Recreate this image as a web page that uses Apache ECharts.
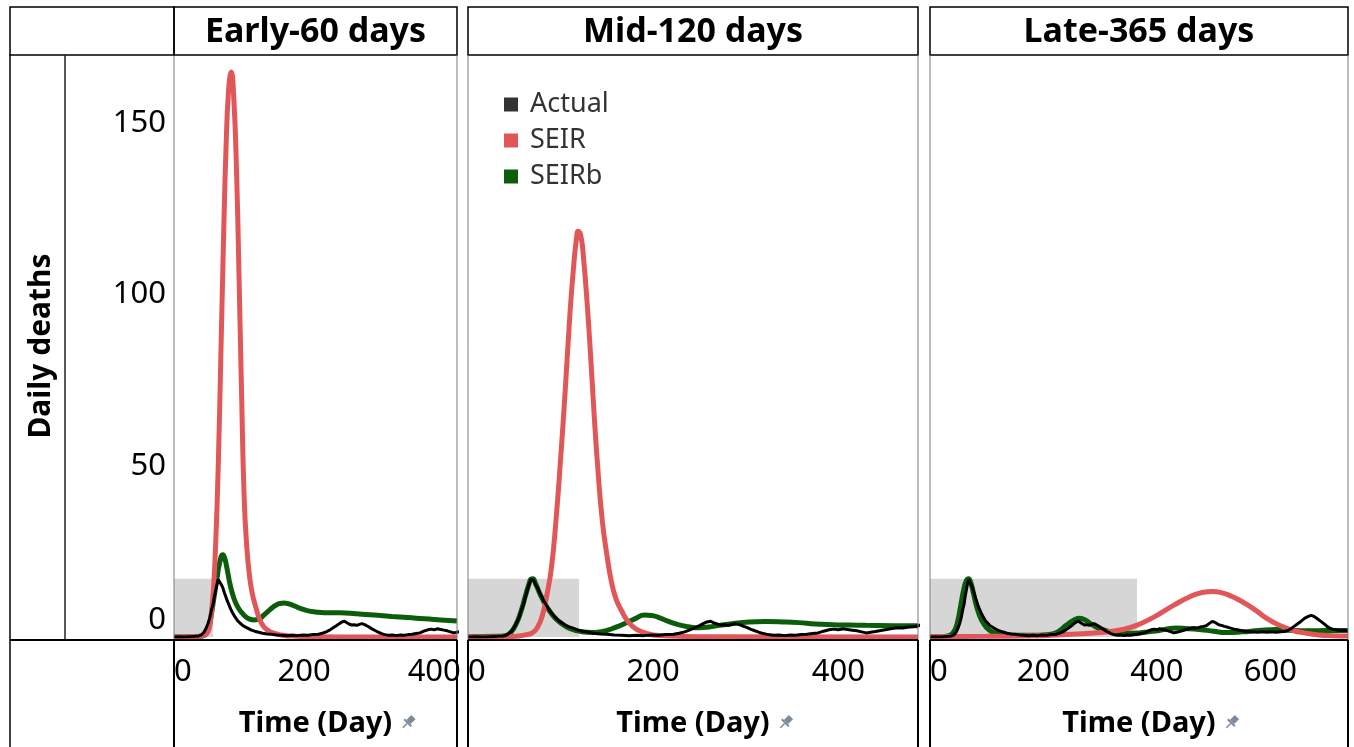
<!DOCTYPE html>
<html>
<head>
<meta charset="utf-8">
<script src="https://cdn.jsdelivr.net/npm/echarts@6/dist/echarts.min.js"></script>
<style>
  html, body { margin: 0; padding: 0; background: #fff; }
  #chart { width: 1354px; height: 747px; }
</style>
</head>
<body>
<div id="chart"></div>
<script>
// panel headers and training windows (days)
const panelTitles = ['Early-60 days', 'Mid-120 days', 'Late-365 days'];
const trainDays = [60, 120, 365];
const trainTop = 17;               // height of shaded training box
const dayMax = [435, 486, 737];    // end of each x axis
const legendNames = ['Actual', 'SEIR', 'SEIRb'];

// observed daily deaths [day, deaths], same for all panels
const actualDeaths = [
  [0,0],[8,0.1],[16,0],[24,0.1],[32,0.2],[38,0.3],[42,0.6],[46,1.4],[49,2.4],[52,3.8],[55,5.6],[58,8.2],
  [60,9.5],[62,11.8],[64,13.6],[66,15.4],[68,16.8],[69,17.2],[71,16.6],[73,15.2],[75,14.4],[78,12.6],
  [81,11],[84,9.6],[87,8.2],[90,7.1],[94,5.8],[98,4.7],[102,4],[106,3.3],[110,2.9],[114,2.5],[119,2],
  [124,1.7],[130,1.4],[136,1.1],[143,0.9],[150,0.8],[158,0.6],[166,0.5],[174,0.4],[182,0.5],[190,0.4],
  [198,0.6],[206,0.5],[214,0.7],[222,0.8],[228,1.1],[234,1.5],[239,2],[244,2.6],[249,3.2],[254,3.9],
  [258,4.4],[262,4.6],[265,4.2],[269,3.8],[273,3.5],[277,3.6],[281,3.4],[285,3.7],[289,3.9],[293,3.6],
  [297,3.2],[301,2.8],[305,2.3],[309,1.9],[314,1.4],[319,1.0],[324,0.7],[330,0.5],[336,0.6],[342,0.4],
  [348,0.6],[354,0.5],[360,0.7],[366,0.8],[372,1],[378,1.2],[384,1.7],[390,2.1],[395,2.3],[400,2.1],
  [405,2.4],[410,2.2],[415,2],[420,1.8],[425,1.5],[430,1.2],[435,1.4],[440,1.6],[446,1.9],[452,2.2],
  [458,2.5],[464,2.7],[470,2.6],[476,2.9],[482,3.1],[487,3.3],[492,3.9],[497,4.5],[501,4.4],[505,4],
  [509,3.6],[514,3.4],[519,3.1],[524,2.9],[530,2.6],[536,2.3],[542,2.1],[548,1.9],[555,1.7],[562,1.6],
  [570,1.5],[578,1.4],[586,1.5],[594,1.4],[602,1.5],[610,1.4],[618,1.5],[625,1.6],[631,1.9],[637,2.5],
  [642,3.1],[647,3.7],[652,4.3],[657,5],[662,5.6],[667,6],[672,6.3],[676,6.1],[680,5.7],[684,5.2],
  [688,4.7],[692,4.2],[696,3.7],[700,3.1],[705,2.6],[710,2.3],[716,2.1],[722,1.9],[728,2],[734,1.9],[737,1.9]
];

// SEIR model fits
const seirEarly = [
  [0,0],[40,0.2],[46,0.5],[50,1],[54,2.5],[58,8],[61,15],[64,27],[68,50],[72,82],[76,115],[80,143],
  [84,160],[88,165],[92,157],[96,137],[100,105],[104,70],[108,40],[112,26],[116,18],[120,13],[126,8.5],
  [132,5],[138,3],[144,2],[152,1.2],[164,0.6],[180,0.3],[220,0.1],[300,0],[435,0]
];
const seirMid = [
  [0,0],[40,0.1],[55,0.3],[65,0.8],[70,1.3],[75,2.8],[80,6],[85,12],[90,20],[95,34],[100,52],[105,72],
  [110,94],[114,108],[117,116],[119,118.5],[122,117],[125,110],[128,100],[132,84],[136,66],[140,50],
  [145,34],[150,24],[155,16],[160,11],[166,7.6],[172,4.8],[178,3],[184,2],[192,1.1],[200,0.6],[215,0.3],
  [250,0.1],[486,0]
];
const seirLate = [
  [0,0.1],[100,0.2],[200,0.4],[250,0.8],[300,1.3],[340,2.2],[370,3.8],[400,6.3],[430,9.3],[460,11.9],
  [480,13],[498,13.3],[515,12.9],[530,12],[545,10.8],[570,8.3],[593,5.5],[615,3.5],[640,1.9],[660,1.2],
  [686,0.6],[710,0.4],[737,0.3]
];

// SEIRb model fits
const seirbEarly = [
  [0,0],[30,0.1],[44,0.3],[49,0.8],[53,2.5],[57,6],[61,11],[66,17],[70,21.5],[75,24],[78,23],[82,19.5],
  [86,15.5],[92,11.3],[98,8.8],[103,7.4],[108,6.3],[113,5.5],[118,5.1],[123,5],[128,5.1],[133,5.5],
  [138,6.4],[144,7.4],[150,8.4],[156,9.2],[163,9.8],[169,9.9],[176,9.7],[185,9.1],[195,8.3],[205,7.7],
  [218,7.3],[231,7.1],[256,7.1],[280,6.8],[308,6.4],[335,6],[359,5.7],[385,5.3],[410,5.0],[435,4.7]
];
const seirbMid = [
  [0,0.1],[30,0.2],[40,0.4],[46,1.3],[50,2.8],[54,5],[58,8.2],[62,12],[66,15.6],[68,16.9],[70,17],
  [73,15.6],[77,13],[81,10.8],[86,8.4],[92,6.2],[98,4.6],[104,3.4],[112,2.3],[122,1.6],[134,1.3],
  [143,1.5],[151,2],[160,2.9],[170,4],[180,5.3],[191,6.4],[198,6.3],[205,5.8],[215,4.7],[227,3.6],
  [238,3],[249,2.7],[260,2.9],[272,3.4],[285,3.9],[300,4.3],[321,4.5],[340,4.4],[357,4.2],[375,3.8],
  [394,3.6],[412,3.5],[430,3.4],[460,3.3],[486,3.3]
];
const seirbLate = [
  [0,0],[20,0.1],[35,0.5],[42,1.5],[48,4],[54,9],[59,13.5],[64,16.4],[68,17],[72,15.8],[77,12.5],[82,9],
  [88,6],[95,3.8],[103,2.2],[112,1.3],[122,0.8],[150,0.5],[180,0.5],[200,0.6],[216,0.9],[228,1.8],
  [240,3.4],[252,4.8],[263,5.5],[272,5.1],[282,4],[292,3],[302,2.3],[315,1.6],[330,1.2],[345,1.1],
  [357,1.1],[370,1.2],[385,1.5],[404,1.9],[420,2.4],[434,2.6],[450,2.5],[475,2.2],[500,1.7],[522,1.3],
  [550,1.5],[580,1.9],[610,2.2],[640,1.9],[670,1.8],[698,1.9],[737,1.9]
];

const seirSets = [seirEarly, seirMid, seirLate];
const seirbSets = [seirbEarly, seirbMid, seirbLate];

const colors = { actual: '#000000', actualKey: '#333333', seir: '#e15759', seirb: '#0b5d0b', train: '#d6d6d6' };
const font = 'Noto Sans';

// layout of the three panels (pixels)
const panels = [{ x0: 174, x1: 457 }, { x0: 468, x1: 918 }, { x0: 930, x1: 1348 }];
const headTop = 7, headBottom = 55, plotBottom = 637, axisY = 640, pageBottom = 760;

const myChart = echarts.init(document.getElementById('chart'), null, { renderer: 'canvas' });

let grids = [], xAxes = [], yAxes = [], series = [], graphics = [];

function line(x1, y1, x2, y2, color, w) {
  graphics.push({ type: 'line', silent: true, z: 100,
    shape: { x1: x1, y1: y1, x2: x2, y2: y2 }, style: { stroke: color, lineWidth: w } });
}

panels.forEach((p, i) => {
  grids.push({ left: p.x0, width: p.x1 - p.x0, top: headBottom, height: plotBottom - headBottom, outerBoundsMode: 'none' });
  xAxes.push({
    type: 'value', gridIndex: i, min: 0, max: dayMax[i], interval: 200,
    name: 'Time (Day)', nameLocation: 'middle', nameGap: 72,
    nameTextStyle: { fontFamily: font, fontSize: 29, fontWeight: 'bold', color: '#000' },
    axisLine: { show: false }, axisTick: { show: false }, splitLine: { show: false },
    axisLabel: { fontFamily: font, fontSize: 31, color: '#000', margin: 20,
      showMaxLabel: false, alignMinLabel: 'left' }
  });
  yAxes.push({
    type: 'value', gridIndex: i, min: 0, max: 170, interval: 50,
    axisLine: { show: false }, axisTick: { show: false }, splitLine: { show: false },
    axisLabel: i === 0 ? {
      fontFamily: font, fontSize: 31, color: '#000', margin: 8, showMaxLabel: false,
      formatter: v => v === 0 ? '{z|0}' : String(v),
      rich: { z: { fontFamily: font, fontSize: 31, color: '#000', padding: [0, 0, 34, 0] } }
    } : { show: false },
    name: i === 0 ? 'Daily deaths' : '', nameLocation: 'middle', nameRotate: 90, nameGap: 118,
    nameTextStyle: { fontFamily: font, fontSize: 30, fontWeight: 'bold', color: '#000' }
  });

  // shaded training window
  series.push({
    type: 'line', xAxisIndex: i, yAxisIndex: i, data: [], z: 1, silent: true,
    markArea: { silent: true, itemStyle: { color: colors.train, opacity: 1 },
      data: [[{ xAxis: 0, yAxis: 0 }, { xAxis: trainDays[i], yAxis: trainTop }]] }
  });
  series.push({
    name: 'SEIRb', type: 'line', xAxisIndex: i, yAxisIndex: i, data: seirbSets[i], z: 2,
    showSymbol: false, smooth: 0.5,
    lineStyle: { color: colors.seirb, width: 5 }, itemStyle: { color: colors.seirb }
  });
  series.push({
    name: 'SEIR', type: 'line', xAxisIndex: i, yAxisIndex: i, data: seirSets[i], z: 3,
    showSymbol: false, smooth: 0.5,
    lineStyle: { color: colors.seir, width: 5 }, itemStyle: { color: colors.seir }
  });
  series.push({
    name: 'Actual', type: 'line', xAxisIndex: i, yAxisIndex: i, data: actualDeaths, z: 4,
    showSymbol: false, lineStyle: { color: colors.actual, width: 3 }, itemStyle: { color: colors.actual }
  });

  // panel frame
  graphics.push({ type: 'rect', silent: true, z: 100,
    shape: { x: p.x0, y: headTop, width: p.x1 - p.x0, height: headBottom - headTop },
    style: { fill: 'none', stroke: '#000', lineWidth: 1.5 } });
  graphics.push({ type: 'text', silent: true, z: 100,
    style: { text: panelTitles[i], x: (p.x0 + p.x1) / 2, y: (headTop + headBottom) / 2 + 1,
      align: 'center', verticalAlign: 'middle', fill: '#000',
      font: 'bold 34px "Noto Sans"' } });
  line(p.x0, headBottom, p.x0, axisY, '#7a7a7a', 1);
  line(p.x1, headBottom, p.x1, axisY, '#7a7a7a', 1);
  line(p.x0, axisY, p.x1, axisY, '#000', 2);
  line(p.x0, axisY, p.x0, pageBottom, '#000', 2);
  line(p.x1, axisY, p.x1, pageBottom, '#000', 2);

  // small pin next to the axis title
  const px = (p.x0 + p.x1) / 2 + 93, py = 722;
  graphics.push({ type: 'group', silent: true, z: 100, x: px, y: py, rotation: -Math.PI / 4, children: [
    { type: 'rect', shape: { x: -3, y: -7, width: 6, height: 7 }, style: { fill: '#7d8a99' } },
    { type: 'rect', shape: { x: -5, y: 0, width: 10, height: 2 }, style: { fill: '#7d8a99' } },
    { type: 'line', shape: { x1: 0, y1: 2, x2: 0, y2: 8 }, style: { stroke: '#7d8a99', lineWidth: 1.5 } }
  ] });
});

// left header cell and row-label column
graphics.push({ type: 'rect', silent: true, z: 100,
  shape: { x: 10, y: headTop, width: 164, height: headBottom - headTop },
  style: { fill: 'none', stroke: '#000', lineWidth: 1.5 } });
line(10, headBottom, 10, pageBottom, '#000', 1.5);
line(65, headBottom, 65, axisY, '#222', 1.5);
line(10, axisY, 174, axisY, '#000', 2);

const option = {
  backgroundColor: '#fff',
  animation: false,
  textStyle: { fontFamily: font },
  grid: grids,
  xAxis: xAxes,
  yAxis: yAxes,
  legend: {
    data: [
      { name: 'Actual', itemStyle: { color: colors.actualKey } },
      { name: 'SEIR', itemStyle: { color: colors.seir } },
      { name: 'SEIRb', itemStyle: { color: colors.seirb } }
    ],
    orient: 'vertical', left: 499, top: 86, icon: 'rect', itemWidth: 14, itemHeight: 14, itemGap: 9,
    selectedMode: false,
    textStyle: { fontFamily: font, fontSize: 27, color: '#333', lineHeight: 27, padding: [0, 0, 0, 7] }
  },
  series: series,
  graphic: graphics
};
myChart.setOption(option);
</script>
</body>
</html>
